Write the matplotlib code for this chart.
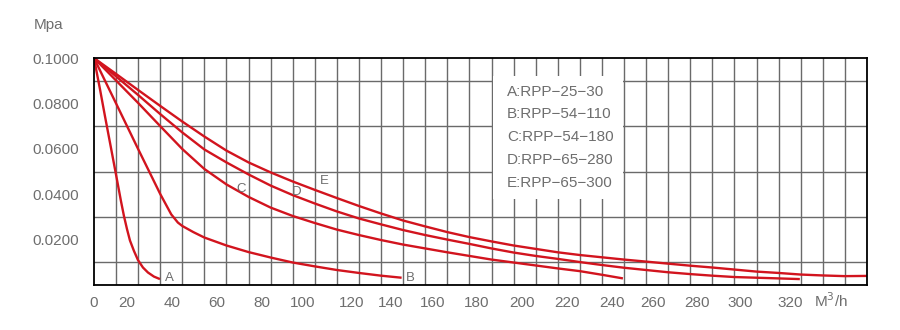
import matplotlib
matplotlib.use("Agg")
import matplotlib.pyplot as plt
from matplotlib.patches import Rectangle
import numpy as np

RED = "#d2141e"
TXT = "#6e6e6e"
GRIDC = "#6a6a6a"
plt.rcParams["font.family"] = ["Liberation Sans", "DejaVu Sans"]

# flow (grid units, 10 per cell) vs pressure drop (MPa)
a_x = [0, 2.72, 4.98, 7.24, 9.51, 10.86, 12.22, 13.58, 14.94, 16.30, 18.11,
       19.92, 22.18, 24.45, 27.16, 29.88]
a_y = [0.1, 0.0863, 0.0744, 0.0628, 0.0511, 0.0441, 0.0370, 0.0304, 0.0247,
       0.0196, 0.0150, 0.0110, 0.0077, 0.0055, 0.0037, 0.0026]

b_x = [0, 10, 20, 30, 35, 38, 40, 45, 50, 60, 70, 80, 90, 100, 110, 120, 130,
       139.3]
b_y = [0.1, 0.0800, 0.0599, 0.0401, 0.0311, 0.0275, 0.0260, 0.0233, 0.0209,
       0.0174, 0.0145, 0.0121, 0.0099, 0.0082, 0.0066, 0.0053, 0.0041,
       0.0032]

c_x = [0, 10, 20, 30, 40, 50, 60, 70, 80, 90, 100, 110, 120, 130, 140, 150,
       160, 170, 180, 190, 200, 210, 220, 230, 239.5]
c_y = [0.1, 0.0901, 0.0802, 0.0700, 0.0599, 0.0511, 0.0443, 0.0388, 0.0341,
       0.0304, 0.0273, 0.0244, 0.0220, 0.0198, 0.0178, 0.0161, 0.0144,
       0.0128, 0.0112, 0.0099, 0.0086, 0.0073, 0.0061, 0.0045, 0.0029]

d_x = [0, 10, 20, 30, 40, 50, 60, 70, 80, 90, 100, 110, 120, 130, 140, 150,
       160, 170, 180, 190, 200, 210, 220, 230, 240, 250, 260, 270, 280, 290,
       300, 310, 319.6]
d_y = [0.1, 0.0919, 0.0837, 0.0753, 0.0672, 0.0597, 0.0540, 0.0487, 0.0438,
       0.0396, 0.0359, 0.0324, 0.0293, 0.0267, 0.0242, 0.0220, 0.0200,
       0.0181, 0.0161, 0.0143, 0.0128, 0.0115, 0.0101, 0.0088, 0.0076,
       0.0066, 0.0056, 0.0048, 0.0041, 0.0035, 0.0032, 0.0029, 0.0026]

e_x = [0, 10, 20, 30, 40, 50, 60, 70, 80, 90, 100, 110, 120, 130, 140, 150,
       160, 170, 180, 190, 200, 210, 220, 230, 240, 250, 260, 270, 280, 290,
       300, 310, 320, 330, 340, 350]
e_y = [0.1, 0.0930, 0.0859, 0.0789, 0.0720, 0.0654, 0.0592, 0.0540, 0.0496,
       0.0456, 0.0419, 0.0383, 0.0348, 0.0315, 0.0284, 0.0258, 0.0233,
       0.0211, 0.0192, 0.0174, 0.0159, 0.0144, 0.0132, 0.0122, 0.0112,
       0.0103, 0.0094, 0.0085, 0.0077, 0.0068, 0.0059, 0.0053, 0.0046,
       0.0042, 0.0039, 0.0040]

letters = ["A", "B", "C", "D", "E"]
letter_x = [32.1, 141.2, 64.3, 89.4, 102.3]
letter_y = [0.0030, 0.0032, 0.0424, 0.0411, 0.0458]
models = ["A:RPP−25−30", "B:RPP−54−110", "C:RPP−54−180",
          "D:RPP−65−280", "E:RPP−65−300"]

xtick_pos = [0, 14.9, 35.3, 55.7, 76, 94.5, 116.8, 134.4, 153.5, 173.4,
             193.8, 214.1, 234.5, 253, 273, 292.4, 315.1]
xtick_lab = ["0", "20", "40", "60", "80", "100", "120", "140", "160", "180",
             "200", "220", "240", "260", "280", "300", "320"]
ytick_pos = [0.02, 0.04, 0.06, 0.08, 0.10]
ytick_lab = ["0.0200", "0.0400", "0.0600", "0.0800", "0.1000"]

fig = plt.figure(figsize=(9, 3.3), dpi=100)
ax = fig.add_axes([0.1044, 0.1364, 0.8589, 0.6878])
ax.set_xlim(0, 350)
ax.set_ylim(0, 0.1)

ax.set_xticks(np.arange(0, 351, 10), minor=True)
ax.set_yticks(np.arange(0, 0.1001, 0.01), minor=True)
ax.grid(True, which="minor", color=GRIDC, linewidth=1.0)
ax.grid(False, which="major")
ax.set_xticks(xtick_pos, xtick_lab)
ax.set_yticks(ytick_pos, ytick_lab)
ax.tick_params(which="both", length=0)
ax.tick_params(axis="x", pad=8, labelsize=11, labelcolor=TXT)
ax.tick_params(axis="y", pad=11, labelsize=11, labelcolor=TXT)
for s in ax.spines.values():
    s.set_color("black")
    s.set_linewidth(1.3)
    s.set_zorder(5)

# white panel holding the model list
ax.add_patch(Rectangle((180.6, 0.0379), 58.8, 0.0542, facecolor="white",
                       edgecolor="none", zorder=2))
for i, m in enumerate(models):
    ax.text(187, 0.0852 - i * 0.01005, m, fontsize=11, color=TXT,
            va="center", ha="left", zorder=3)

for xs, ys in [(a_x, a_y), (b_x, b_y), (c_x, c_y), (d_x, d_y), (e_x, e_y)]:
    ax.plot(xs, ys, color=RED, linewidth=1.7, solid_joinstyle="round",
            solid_capstyle="butt", zorder=4)

for t, lx, ly in zip(letters, letter_x, letter_y):
    ax.text(lx, ly, t, fontsize=9.5, color=TXT, va="center", ha="left",
            zorder=4)

fig.text(34 / 900, 1 - 25 / 330, "Mpa", fontsize=11, color=TXT,
         va="center", ha="left")
fig.text(814 / 900, 1 - 301 / 330, "M$^3$/h", fontsize=11, color=TXT,
         va="center", ha="left")

fig.savefig("out.png", dpi=100)
